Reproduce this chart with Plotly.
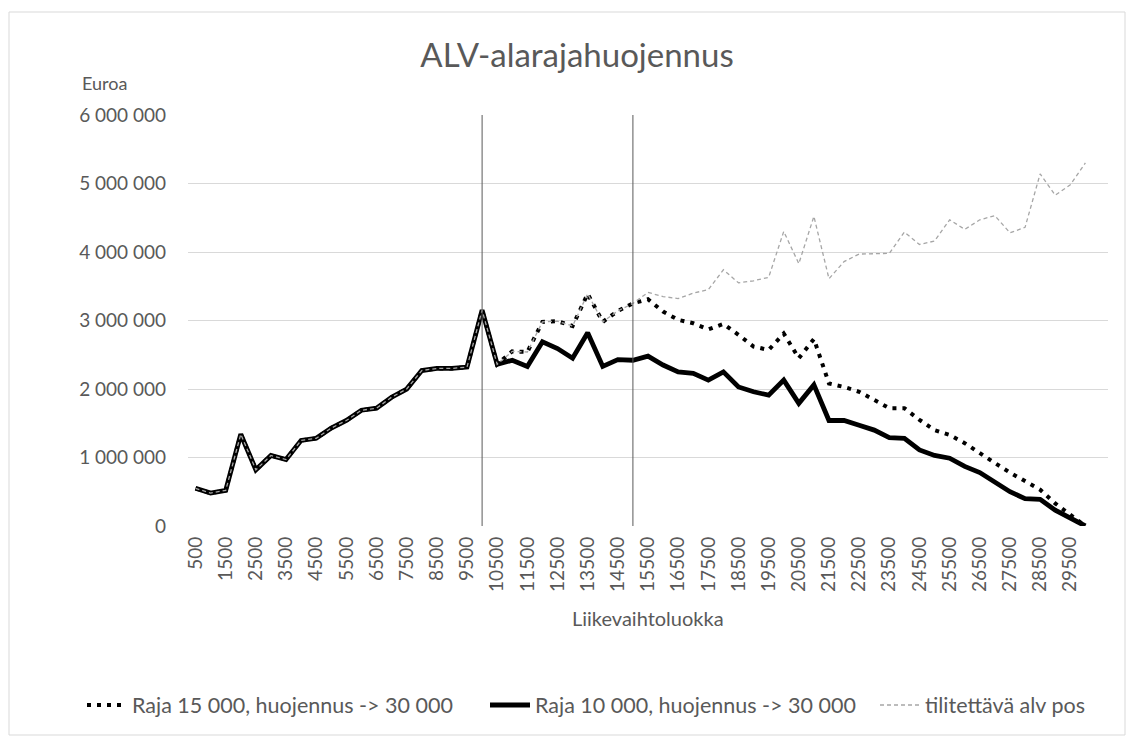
import plotly.graph_objects as go

categories = [500, 1000, 1500, 2000, 2500, 3000, 3500, 4000, 4500, 5000,
              5500, 6000, 6500, 7000, 7500, 8000, 8500, 9000, 9500, 10000,
              10500, 11000, 11500, 12000, 12500, 13000, 13500, 14000, 14500, 15000,
              15500, 16000, 16500, 17000, 17500, 18000, 18500, 19000, 19500, 20000,
              20500, 21000, 21500, 22000, 22500, 23000, 23500, 24000, 24500, 25000,
              25500, 26000, 26500, 27000, 27500, 28000, 28500, 29000, 29500, 30000]

tilitettava = [550000, 480000, 520000, 1340000, 820000, 1030000, 970000, 1250000, 1280000, 1430000,
               1540000, 1690000, 1720000, 1880000, 2000000, 2270000, 2300000, 2300000, 2320000, 3150000,
               2360000, 2550000, 2540000, 2980000, 2990000, 2920000, 3390000, 2980000, 3140000, 3250000,
               3410000, 3350000, 3320000, 3400000, 3450000, 3740000, 3550000, 3580000, 3630000, 4300000,
               3830000, 4520000, 3610000, 3860000, 3970000, 3980000, 3980000, 4290000, 4110000, 4160000,
               4470000, 4330000, 4470000, 4530000, 4280000, 4360000, 5140000, 4830000, 4980000, 5300000]

raja15 = [550000, 480000, 520000, 1340000, 820000, 1030000, 970000, 1250000, 1280000, 1430000,
          1540000, 1690000, 1720000, 1880000, 2000000, 2270000, 2300000, 2300000, 2320000, 3150000,
          2360000, 2550000, 2540000, 2980000, 2990000, 2920000, 3390000, 2980000, 3140000, 3250000,
          3310000, 3130000, 3010000, 2960000, 2870000, 2950000, 2790000, 2620000, 2570000, 2810000,
          2450000, 2730000, 2080000, 2030000, 1960000, 1840000, 1720000, 1720000, 1550000, 1400000,
          1330000, 1210000, 1060000, 920000, 780000, 650000, 530000, 330000, 160000, 0]

raja10 = [550000, 480000, 520000, 1340000, 820000, 1030000, 970000, 1250000, 1280000, 1430000,
          1540000, 1690000, 1720000, 1880000, 2000000, 2270000, 2300000, 2300000, 2320000, 3150000,
          2360000, 2420000, 2330000, 2690000, 2590000, 2450000, 2820000, 2330000, 2430000, 2420000,
          2480000, 2350000, 2250000, 2230000, 2130000, 2250000, 2030000, 1960000, 1910000, 2130000,
          1790000, 2060000, 1540000, 1540000, 1470000, 1400000, 1290000, 1280000, 1110000, 1030000,
          990000, 870000, 780000, 650000, 500000, 400000, 390000, 230000, 110000, 0]

thresholds = [10000, 15000]

x_tickvals = categories[::2]
x_ticktext = [str(c) for c in x_tickvals]
y_tickvals = [0, 1000000, 2000000, 3000000, 4000000, 5000000, 6000000]
y_ticktext = ["0", "1 000 000", "2 000 000", "3 000 000", "4 000 000", "5 000 000", "6 000 000"]

FONT = "Lato, Open Sans, sans-serif"
TXT = "#595959"

fig = go.Figure()

fig.add_trace(go.Scatter(
    x=categories, y=raja15, mode="lines",
    name="Raja 15 000, huojennus -> 30 000", legend="legend",
    line=dict(color="#000000", width=4, dash="4px,6px"),
))
fig.add_trace(go.Scatter(
    x=categories, y=raja10, mode="lines",
    name="Raja 10 000, huojennus -> 30 000", legend="legend2",
    line=dict(color="#000000", width=4.8),
))
fig.add_trace(go.Scatter(
    x=categories, y=tilitettava, mode="lines",
    name="tilitettävä alv pos", legend="legend3",
    line=dict(color="#a6a6a6", width=1.3, dash="4px,3px"),
))

for t in thresholds:
    fig.add_shape(type="line", xref="x", yref="y", x0=t, x1=t, y0=0, y1=6000000,
                  line=dict(color="#595959", width=1), layer="above")

# chart border
fig.add_shape(type="rect", xref="paper", yref="paper",
              x0=(9 - 188) / 920, x1=(1125 - 188) / 920,
              y0=(526 - 735) / 411, y1=(526 - 12) / 411,
              line=dict(color="#d9d9d9", width=1), layer="below")


def leg(xpx):
    return dict(orientation="h", x=xpx / 1134, xanchor="left", xref="container",
                y=(738 - 705) / 738, yref="container", yanchor="middle",
                font=dict(size=21.5, color=TXT, family=FONT),
                itemwidth=40, bgcolor="rgba(0,0,0,0)")


fig.update_layout(
    width=1134, height=738,
    margin=dict(l=188, r=26, t=115, b=212),
    paper_bgcolor="white", plot_bgcolor="white",
    font=dict(family=FONT, color=TXT, size=16),
    title=dict(text="ALV-alarajahuojennus", x=577 / 1134, xanchor="center",
               xref="container",
               y=1 - 55 / 738, yanchor="middle",
               font=dict(size=33, color=TXT, family=FONT)),
    showlegend=True,
    legend=leg(82),
    legend2=leg(485),
    legend3=leg(875),
    xaxis=dict(range=[250, 30750], tickvals=x_tickvals, ticktext=x_ticktext,
               tickangle=-90, showgrid=False, zeroline=False, showline=False,
               ticks="", ticklabelstandoff=6, tickfont=dict(size=19, color=TXT)),
    yaxis=dict(range=[0, 6000000], tickvals=y_tickvals, ticktext=y_ticktext,
               showgrid=True, gridcolor="#d9d9d9", gridwidth=1, zeroline=False,
               showline=False, ticks="", ticklabelstandoff=21,
               tickfont=dict(size=19, color=TXT)),
    annotations=[
        dict(text="Euroa", xref="paper", yref="paper",
             x=(80 - 188) / 920, xanchor="left", y=(526 - 83) / 411, yanchor="middle",
             showarrow=False, font=dict(size=18, color=TXT, family=FONT)),
        dict(text="Liikevaihtoluokka", xref="paper", yref="paper",
             x=(648 - 188) / 920, xanchor="center", y=(526 - 618) / 411, yanchor="middle",
             showarrow=False, font=dict(size=20, color=TXT, family=FONT)),
    ],
)

fig.write_html("out.html", post_script="document.body.style.margin='0';",
               config={"displayModeBar": False})
